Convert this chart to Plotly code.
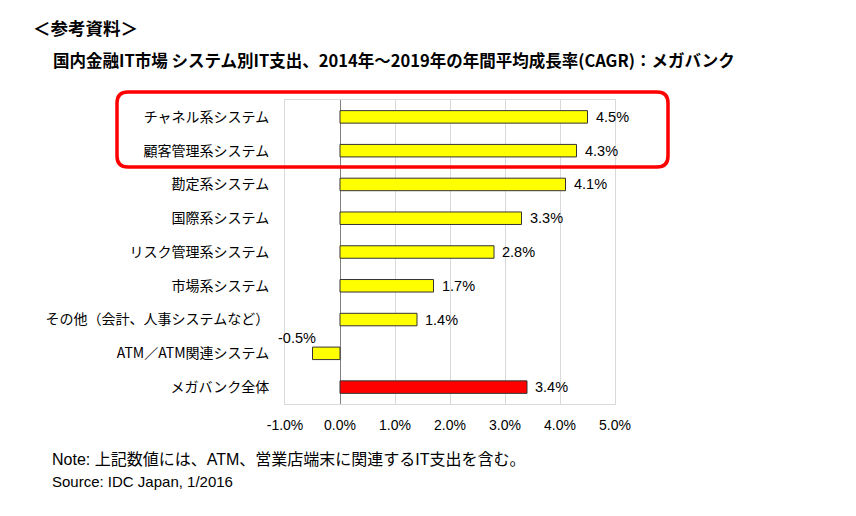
import plotly.graph_objects as go

categories = ["チャネル系システム", "顧客管理系システム", "勘定系システム", "国際系システム",
              "リスク管理系システム", "市場系システム", "その他（会計、人事システムなど）",
              "ATM／ATM関連システム", "メガバンク全体"]
values = [4.5, 4.3, 4.1, 3.3, 2.8, 1.7, 1.4, -0.5, 3.4]
bar_colors = ["#FFFF00"] * 8 + ["#FF0000"]
tick_vals = [-1, 0, 1, 2, 3, 4, 5]
tick_text = ["-1.0%", "0.0%", "1.0%", "2.0%", "3.0%", "4.0%", "5.0%"]

OFF = 8  # page body margin
W, H = 840, 500
L = 285 - OFF
T = 100 - OFF
PW = 615 - 285
PH = 404 - 100
R = W - L - PW
B = H - T - PH
FONT = "Liberation Sans, Arial, Noto Sans CJK JP, sans-serif"
JFONT = "Noto Sans CJK JP, Liberation Sans, sans-serif"

fig = go.Figure()
fig.add_trace(go.Bar(
    y=categories, x=values, orientation="h",
    marker=dict(color=bar_colors, line=dict(color="#333333", width=1)),
    width=0.37, hoverinfo="skip",
))

annotations = []
for c, v in zip(categories, values):
    if v >= 0:
        annotations.append(dict(x=v, y=c, text=f"{v:.1f}%", showarrow=False,
                                xanchor="left", xshift=6, yshift=0,
                                font=dict(family=FONT, size=14.5, color="#000")))
    else:
        annotations.append(dict(x=v, y=c, text=f"{v:.1f}%", showarrow=False,
                                xanchor="right", xshift=5, yshift=15,
                                font=dict(family=FONT, size=14.5, color="#000")))

def px_x(p):
    return (p - OFF - L) / PW

def px_y(p):
    return (T + PH - (p - OFF)) / PH

annotations += [
    dict(xref="paper", yref="paper", x=px_x(31), y=px_y(28), xanchor="left", yanchor="middle",
         text="<b>＜参考資料＞</b>", showarrow=False,
         font=dict(family=JFONT, size=17.5, color="#000")),
    dict(xref="paper", yref="paper", x=px_x(51), y=px_y(60), xanchor="left", yanchor="middle",
         text="<b>国内金融IT市場 システム別IT支出、2014年～2019年の年間平均成長率(CAGR)：メガバンク</b>",
         showarrow=False, font=dict(family=JFONT, size=16.5, color="#000")),
    dict(xref="paper", yref="paper", x=px_x(50), y=px_y(459), xanchor="left", yanchor="middle",
         text="Note: 上記数値には、ATM、営業店端末に関連するIT支出を含む。", showarrow=False,
         font=dict(family=FONT, size=16, color="#000")),
    dict(xref="paper", yref="paper", x=px_x(50), y=px_y(481), xanchor="left", yanchor="middle",
         text="Source: IDC Japan, 1/2016", showarrow=False,
         font=dict(family=FONT, size=15, color="#000")),
]

# rounded highlight rectangle (pixel -> paper)
x0, x1, y0, y1, r = 117, 668, 92, 167, 11
X0, X1 = px_x(x0), px_x(x1)
rx = r / PW
ry = r / PH
Y0, Y1 = px_y(y1), px_y(y0)
path = (f"M {X0+rx},{Y1} L {X1-rx},{Y1} Q {X1},{Y1} {X1},{Y1-ry} "
        f"L {X1},{Y0+ry} Q {X1},{Y0} {X1-rx},{Y0} L {X0+rx},{Y0} "
        f"Q {X0},{Y0} {X0},{Y0+ry} L {X0},{Y1-ry} Q {X0},{Y1} {X0+rx},{Y1} Z")

fig.update_layout(
    width=W, height=H,
    margin=dict(l=L, r=R, t=T, b=B, autoexpand=False),
    paper_bgcolor="white", plot_bgcolor="white",
    showlegend=False,
    annotations=annotations,
    shapes=[dict(type="path", path=path, xref="paper", yref="paper",
                 line=dict(color="#FF0000", width=3.5), layer="above")],
    xaxis=dict(range=[-1, 5], tickvals=tick_vals, ticktext=tick_text,
               showgrid=True, gridcolor="#D9D9D9", gridwidth=1,
               zeroline=True, zerolinecolor="#808080", zerolinewidth=1,
               showline=True, linecolor="#D9D9D9", mirror=True,
               ticks="", tickfont=dict(family=FONT, size=14, color="#000"), ticklabelstandoff=8),
    yaxis=dict(autorange="reversed", showgrid=False, zeroline=False,
               showline=True, linecolor="#D9D9D9", mirror=True,
               ticks="", ticklabelstandoff=12,
               tickfont=dict(family=JFONT, size=14, color="#000")),
)

fig.write_html("out.html")
